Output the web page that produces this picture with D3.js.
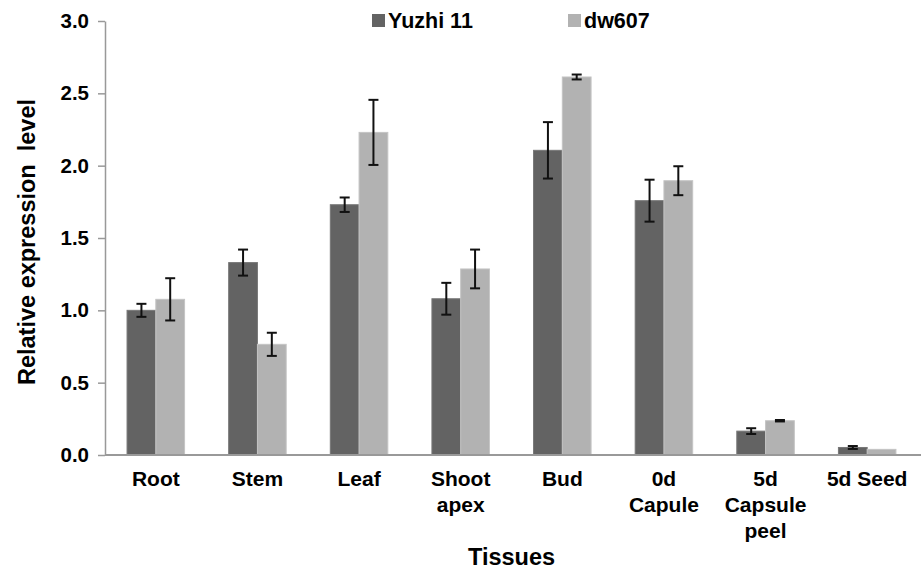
<!DOCTYPE html>
<html>
<head>
<meta charset="utf-8">
<script src="https://cdn.jsdelivr.net/npm/d3@7"></script>
<style>
  body { margin: 0; background: #fff; }
  text { font-family: "Liberation Sans", Arial, sans-serif; font-weight: bold; fill: #000; }
</style>
</head>
<body>
<svg id="chart" width="921" height="569"></svg>
<script>
// data
let tissues = ["Root", "Stem", "Leaf", "Shoot apex", "Bud", "0d Capule", "5d Capsule peel", "5d Seed"];
let tissueLines = [["Root"], ["Stem"], ["Leaf"], ["Shoot", "apex"], ["Bud"], ["0d", "Capule"], ["5d", "Capsule", "peel"], ["5d Seed"]];
let seriesNames = ["Yuzhi 11", "dw607"];
let yuzhiValues = [1.0, 1.33, 1.73, 1.08, 2.106, 1.758, 0.165, 0.052];
let yuzhiErrors = [0.045, 0.09, 0.05, 0.11, 0.195, 0.145, 0.02, 0.01];
let dwValues = [1.076, 0.765, 2.23, 1.286, 2.613, 1.896, 0.237, 0.039];
let dwErrors = [0.146, 0.08, 0.225, 0.134, 0.017, 0.1, 0.005, 0];
let yTicks = [0, 0.5, 1.0, 1.5, 2.0, 2.5, 3.0];
let colors = ["#636363", "#b2b2b2"];

let margin = { top: 21, left: 105, right: 3, bottom: 114 };
let width = 921 - margin.left - margin.right,
  height = 569 - margin.top - margin.bottom;

let svg = d3.select("#chart");
let g = svg.append("g")
  .attr("transform", "translate(" + margin.left + "," + margin.top + ")");

let x0 = d3.scaleBand().domain(tissues).range([0, width])
  .paddingInner(0.434).paddingOuter(0.217);
let x1 = d3.scaleBand().domain(seriesNames).range([0, x0.bandwidth()]);
let y = d3.scaleLinear().domain([0, 3]).range([height, 0]);

// y axis
let yAxis = g.append("g")
  .call(d3.axisLeft(y).tickValues(yTicks).tickFormat(d3.format(".1f"))
    .tickSizeInner(7).tickSizeOuter(0).tickPadding(9));
yAxis.select(".domain").attr("stroke", "#999").attr("stroke-width", 1.5);
yAxis.selectAll(".tick line").attr("stroke", "#999").attr("stroke-width", 1.5);
yAxis.selectAll(".tick text").attr("font-size", "20.5px")
  .attr("font-family", "Liberation Sans, Arial, sans-serif").attr("font-weight", "bold").attr("fill", "#000");

// bars
let rows = tissues.map((t, i) => ({
  tissue: t,
  vals: [
    { s: seriesNames[0], v: yuzhiValues[i], e: yuzhiErrors[i], c: colors[0] },
    { s: seriesNames[1], v: dwValues[i], e: dwErrors[i], c: colors[1] },
  ],
}));

let groups = g.selectAll(".grp").data(rows).enter().append("g")
  .attr("transform", (d) => "translate(" + x0(d.tissue) + ",0)");

groups.selectAll("rect").data((d) => d.vals).enter().append("rect")
  .attr("x", (d) => x1(d.s))
  .attr("y", (d) => y(d.v))
  .attr("width", x1.bandwidth())
  .attr("height", (d) => height - y(d.v))
  .attr("fill", (d) => d.c)
  .attr("stroke", (d, i) => (i === 0 ? "#777" : "#c4c4c4"))
  .attr("stroke-width", 1);

// error bars
let eb = groups.selectAll(".err").data((d) => d.vals.filter((v) => v.e > 0)).enter().append("g")
  .attr("stroke", "#111").attr("stroke-width", 2);
let cx = (d) => x1(d.s) + x1.bandwidth() / 2;
eb.append("line").attr("x1", cx).attr("x2", cx)
  .attr("y1", (d) => y(d.v + d.e)).attr("y2", (d) => y(d.v - d.e));
eb.append("line").attr("x1", (d) => cx(d) - 5).attr("x2", (d) => cx(d) + 5)
  .attr("y1", (d) => y(d.v + d.e)).attr("y2", (d) => y(d.v + d.e));
eb.append("line").attr("x1", (d) => cx(d) - 5).attr("x2", (d) => cx(d) + 5)
  .attr("y1", (d) => y(d.v - d.e)).attr("y2", (d) => y(d.v - d.e));

// x axis line
g.append("line").attr("x1", 0).attr("x2", width + margin.right)
  .attr("y1", height).attr("y2", height)
  .attr("stroke", "#999").attr("stroke-width", 2);

// category labels
tissues.forEach((t, i) => {
  let txt = g.append("text")
    .attr("x", x0(t) + x0.bandwidth() / 2)
    .attr("y", height + 31)
    .attr("text-anchor", "middle")
    .attr("font-size", "21px");
  tissueLines[i].forEach((line, j) => {
    txt.append("tspan")
      .attr("x", x0(t) + x0.bandwidth() / 2)
      .attr("dy", j === 0 ? 0 : 26)
      .text(line);
  });
});

// axis titles
g.append("text")
  .attr("x", width / 2).attr("y", height + 110)
  .attr("text-anchor", "middle").attr("font-size", "23.5px")
  .text("Tissues");
g.append("text")
  .attr("transform", "rotate(-90)")
  .attr("x", -(242 - margin.top)).attr("y", 35 - margin.left)
  .attr("text-anchor", "middle").attr("font-size", "23.5px")
  .attr("xml:space", "preserve")
  .text("Relative expression  level");

// legend
let legendX = [372, 568];
seriesNames.forEach((s, i) => {
  svg.append("rect").attr("x", legendX[i]).attr("y", 14)
    .attr("width", 13).attr("height", 13).attr("fill", colors[i]);
  svg.append("text").attr("x", legendX[i] + 16).attr("y", 28)
    .attr("font-size", "21.5px").text(s);
});
</script>
</body>
</html>
